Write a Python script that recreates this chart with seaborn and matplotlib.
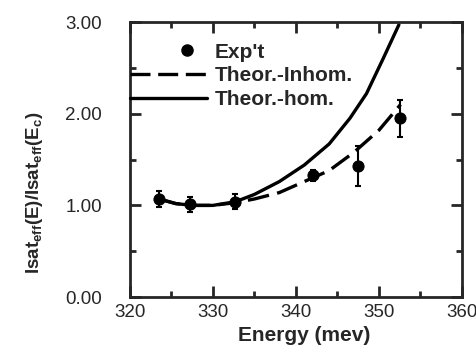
import matplotlib
matplotlib.use("Agg")
import matplotlib.pyplot as plt
import seaborn as sns
from matplotlib.legend_handler import HandlerLine2D
from matplotlib.lines import Line2D

# experimental points
exp_energy = [323.5, 327.2, 332.6, 342.1, 347.5, 352.5]
exp_ratio = [1.07, 1.01, 1.04, 1.33, 1.43, 1.95]
exp_err = [0.09, 0.08, 0.08, 0.06, 0.22, 0.20]

# theory, homogeneous
hom_energy = [323.5, 325.5, 327.5, 330.0, 332.7, 335.0, 338.0, 341.0, 344.0, 346.5, 348.5, 350.5, 352.4]
hom_ratio = [1.07, 1.02, 1.00, 1.00, 1.04, 1.12, 1.26, 1.44, 1.67, 1.95, 2.22, 2.60, 2.97]

# theory, inhomogeneous
inh_energy = [323.5, 325.5, 327.5, 330.0, 332.7, 335.0, 338.0, 341.0, 344.0, 347.0, 350.0, 352.6]
inh_ratio = [1.07, 1.02, 1.00, 1.00, 1.03, 1.07, 1.14, 1.26, 1.38, 1.58, 1.82, 2.10]


class RightMarker(HandlerLine2D):
    # single legend dot sits in the middle of xdata, so shift xdata to the right
    def get_xdata(self, legend, xdescent, ydescent, width, height, fontsize):
        xd = [-xdescent + 0.5 * width, -xdescent + 0.98 * width]
        return xd, xd


sns.set_style("ticks")
plt.rcParams['font.family'] = ['Liberation Sans', 'DejaVu Sans']
plt.rcParams['mathtext.fontset'] = 'custom'
plt.rcParams['mathtext.rm'] = 'Liberation Sans:bold'
plt.rcParams['mathtext.bf'] = 'Liberation Sans:bold'

fig = plt.figure(figsize=(4.77, 3.52), dpi=100)
ax = fig.add_axes([0.2725, 0.156, 0.696, 0.7815])

sns.lineplot(x=exp_energy, y=exp_ratio, ax=ax, color='black', marker='o', markersize=8,
             linestyle='none', markeredgecolor='black')
ax.errorbar(exp_energy, exp_ratio, yerr=exp_err, fmt='none', ecolor='black',
            elinewidth=1.5, capsize=2.5, capthick=1.5)
sns.lineplot(x=inh_energy, y=inh_ratio, ax=ax, color='black', linewidth=2.4)
ax.lines[-1].set_dashes((6.5, 2.5))
sns.lineplot(x=hom_energy, y=hom_ratio, ax=ax, color='black', linewidth=2.4)

ax.set_xlim(320, 360)
ax.set_ylim(0, 3)
ax.set_xticks([320, 330, 340, 350, 360])
ax.set_xticks([325, 335, 345, 355], minor=True)
ax.set_yticks([0, 1, 2, 3])
ax.set_yticklabels(['0.00', '1.00', '2.00', '3.00'])
ax.set_yticks([0.5, 1.5, 2.5], minor=True)
ax.tick_params(which='both', direction='in', top=True, right=True, width=2, labelsize=13.5)
ax.tick_params(axis='y', which='major', length=8, pad=20)
ax.tick_params(axis='x', which='major', length=8, pad=5)
ax.tick_params(which='minor', length=4.5)
for s in ax.spines.values():
    s.set_linewidth(2)
    s.set_visible(True)

ax.set_xlabel('Energy (mev)', fontsize=15, fontweight='bold')
ax.set_ylabel(r'Isat$_{\mathrm{eff}}$(E)/Isat$_{\mathrm{eff}}$(E$_{\mathrm{c}}$)',
              fontsize=13.5, fontweight='bold')
ax.xaxis.set_label_coords(0.525, -0.105)
ax.yaxis.set_label_coords(-0.255, 0.38)

h_exp = Line2D([], [], color='black', marker='o', markersize=8, linestyle='none')
h_inh = Line2D([], [], color='black', linewidth=2.4, dashes=(6, 2.3))
h_hom = Line2D([], [], color='black', linewidth=2.4)
ax.legend([h_exp, h_inh, h_hom], ["Exp't", 'Theor.-Inhom.', 'Theor.-hom.'],
          handler_map={h_exp: RightMarker(numpoints=1)},
          loc='upper left', bbox_to_anchor=(0.0, 0.925), frameon=False,
          borderaxespad=0, borderpad=0, handlelength=3.7, handletextpad=0.35,
          labelspacing=0.22, prop={'weight': 'bold', 'size': 15})

fig.savefig('out.png', dpi=100)
